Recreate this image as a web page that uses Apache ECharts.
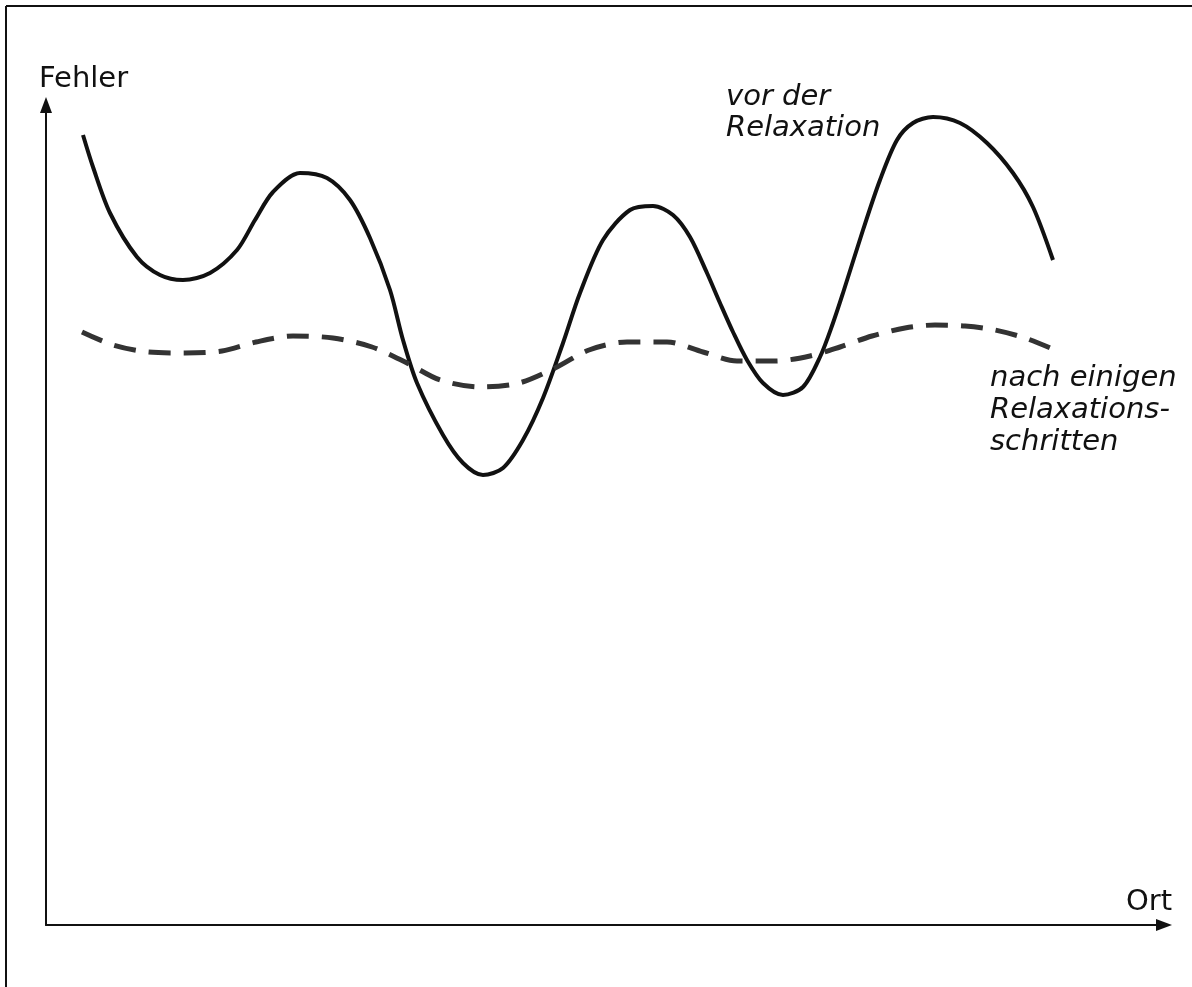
<!DOCTYPE html>
<html>
<head>
<meta charset="utf-8">
<script src="https://cdn.jsdelivr.net/npm/echarts@6/dist/echarts.min.js"></script>
<style>
html,body{margin:0;padding:0;background:#fff;}
#chart{width:1192px;height:987px;}
</style>
</head>
<body>
<div id="chart"></div>
<script>
// Position along "Ort" (arbitrary units) and "Fehler" (arbitrary units)
var solidX = [37,47,64,91,114,137,164,191,209,227,254,281,304,324,344,357,371,397,417,437,457,477,497,517,534,557,584,607,627,644,661,674,687,701,717,737,757,774,787,797,817,834,851,867,887,914,941,967,987,1007];
var solidY = [790,758,712,668,650,645,652,675,705,733,752,747,725,687,635,585,542,490,462,450,457,485,527,582,632,685,715,719,710,688,652,622,593,565,542,530,538,568,602,632,695,745,785,802,808,802,782,752,718,665];
var dashX = [36,67,102,139,176,210,247,287,326,361,394,434,473,509,543,581,621,657,691,729,764,794,826,859,889,919,949,979,1009];
var dashY = [593,580,573,572,574,583,589,587,578,562,545,538,542,557,575,583,583,573,564,564,569,578,589,597,600,599,595,587,575];
var yAxisTitle = 'Fehler';
var xAxisTitle = 'Ort';
var solidLabel = ['vor der', 'Relaxation'];
var dashLabel = ['nach einigen', 'Relaxations-', 'schritten'];

function pairs(xs, ys){ return xs.map(function(x,i){ return [x, ys[i]]; }); }

var chart = echarts.init(document.getElementById('chart'), null, {renderer:'canvas'});
var font = 'DejaVu Sans';
var option = {
  animation:false,
  backgroundColor:'#ffffff',
  grid:{left:46, right:28, top:105, bottom:62},
  xAxis:{type:'value', min:0, max:1118,
    axisLine:{show:true, symbol:['none','triangle'], symbolSize:[12,16], lineStyle:{color:'#111', width:2}},
    axisTick:{show:false}, axisLabel:{show:false}, splitLine:{show:false}},
  yAxis:{type:'value', min:0, max:820,
    axisLine:{show:true, symbol:['none','triangle'], symbolSize:[12,16], lineStyle:{color:'#111', width:2}},
    axisTick:{show:false}, axisLabel:{show:false}, splitLine:{show:false}},
  series:[
    {type:'line', data:pairs(solidX, solidY), smooth:0.3, showSymbol:false,
     lineStyle:{color:'#111', width:4}},
    {type:'line', data:pairs(dashX, dashY), smooth:0.3, showSymbol:false,
     lineStyle:{color:'#333', width:5, type:[22,13]}}
  ],
  graphic:[
    {type:'line', shape:{x1:6,y1:6,x2:1192,y2:6}, style:{stroke:'#111', lineWidth:2}},
    {type:'line', shape:{x1:6,y1:6,x2:6,y2:987}, style:{stroke:'#111', lineWidth:2}},
    {type:'text', left:39, top:65, style:{text:yAxisTitle, font:'29px "'+font+'"', fill:'#111'}},
    {type:'text', left:1126, top:888, style:{text:xAxisTitle, font:'29px "'+font+'"', fill:'#111'}},
    {type:'text', left:726, top:82, style:{text:solidLabel.join('\n'), font:'italic 29px "'+font+'"', lineHeight:31, fill:'#111'}},
    {type:'text', left:990, top:362, style:{text:dashLabel.join('\n'), font:'italic 29px "'+font+'"', lineHeight:32, fill:'#111'}}
  ]
};
chart.setOption(option);
</script>
</body>
</html>
